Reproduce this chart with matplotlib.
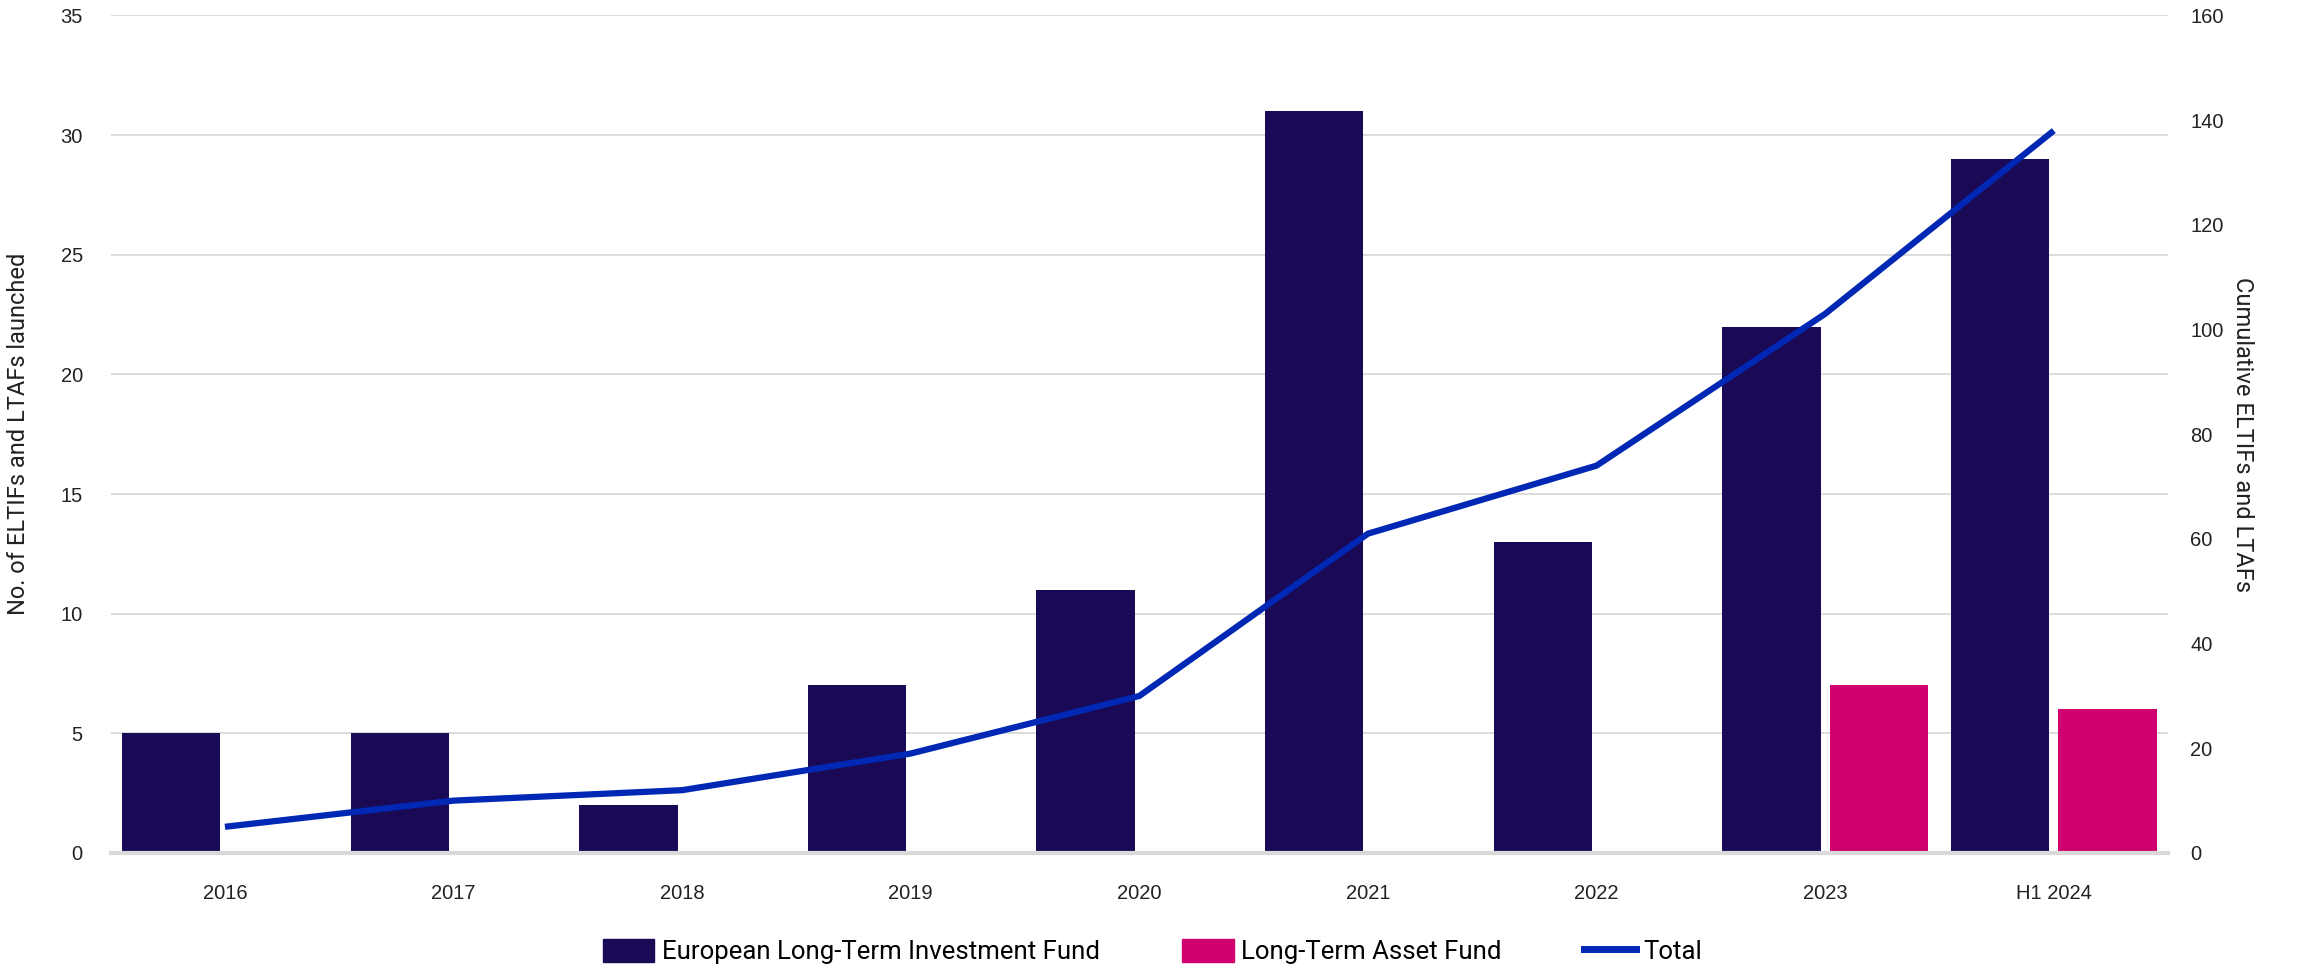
import numpy as np
import matplotlib
matplotlib.use("Agg")
import matplotlib.pyplot as plt
from matplotlib import font_manager
from matplotlib.patches import Patch
from matplotlib.lines import Line2D

categories = ["2016", "2017", "2018", "2019", "2020", "2021", "2022", "2023", "H1 2024"]
eltif = [5, 5, 2, 7, 11, 31, 13, 22, 29]
ltaf = [0, 0, 0, 0, 0, 0, 0, 7, 6]
total = [5, 10, 12, 19, 30, 61, 74, 103, 138]

names = {f.name for f in font_manager.fontManager.ttflist}
narrow = "Liberation Sans Narrow" if "Liberation Sans Narrow" in names else "Roboto"

plt.rcParams["font.family"] = ["Liberation Sans", "DejaVu Sans"]

fig = plt.figure(figsize=(23.05, 9.66), dpi=100)
ax = fig.add_axes([0.048, 0.117, 0.8926, 0.867])
ax2 = ax.twinx()

x = np.arange(len(categories))
w = 0.43
gap = 0.04
ax.bar(x - w / 2 - gap / 2, eltif, width=w, color="#1a0a56", zorder=2)
ax.bar(x + w / 2 + gap / 2, ltaf, width=w, color="#d1006f", zorder=2)
ax2.plot(x, total, color="#0028b4", lw=4.5, solid_capstyle="butt", zorder=3)

ax.set_xlim(-0.5, len(categories) - 0.5)
ax.set_ylim(0, 35)
ax.set_yticks(range(0, 36, 5))
ax2.set_ylim(0, 160)
ax2.set_yticks(range(0, 161, 20))

ax.grid(axis="y", color="#d9d9d9", lw=1.3, zorder=0)
ax.set_axisbelow(True)
for a in (ax, ax2):
    for s in a.spines.values():
        s.set_visible(False)
    a.tick_params(length=0, labelsize=14.5, colors="#222222")
ax.spines["bottom"].set_visible(True)
ax.spines["bottom"].set_color("#d9d9d9")
ax.spines["bottom"].set_linewidth(3)
ax.set_xticks(x)
ax.set_xticklabels(categories)
ax.tick_params(axis="x", pad=22)
ax.tick_params(axis="y", pad=20)
ax2.tick_params(axis="y", pad=16)

ax.set_ylabel("No. of ELTIFs and LTAFs launched", fontsize=17, family=narrow,
              color="#222222", labelpad=22)
ax2.set_ylabel("Cumulative ELTIFs and LTAFs", fontsize=17, family=narrow,
               color="#222222", rotation=270, labelpad=22)

handles = [
    Patch(color="#1a0a56", label="European Long-Term Investment Fund"),
    Patch(color="#d1006f", label="Long-Term Asset Fund"),
    Line2D([], [], color="#0028b4", lw=5, label="Total"),
]
fig.legend(handles=handles, loc="lower center", bbox_to_anchor=(0.5, -0.022), ncol=3,
           frameon=False, prop={"family": narrow, "size": 18.5}, handlelength=2.0,
           handleheight=1.0, handletextpad=0.3, columnspacing=3.2)

fig.savefig("out.png", dpi=100)
